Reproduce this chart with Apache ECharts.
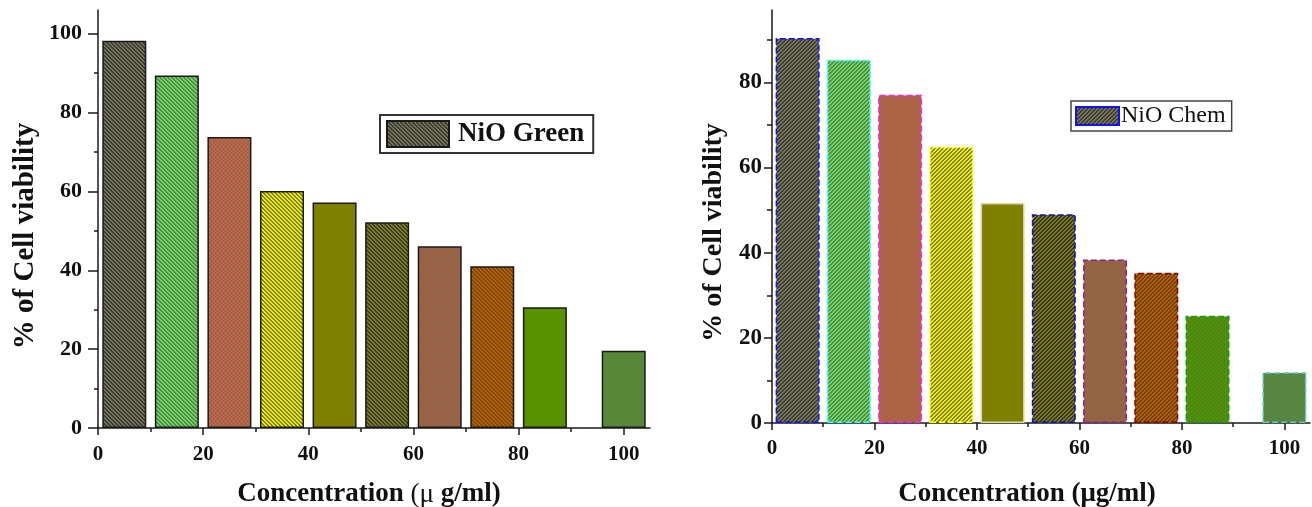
<!DOCTYPE html>
<html>
<head>
<meta charset="utf-8">
<script src="https://cdn.jsdelivr.net/npm/echarts@6/dist/echarts.min.js"></script>
<style>
html,body{margin:0;padding:0;background:#fff;}
#chart{width:1312px;height:507px;}
</style>
</head>
<body>
<div id="chart"></div>
<script>
// ---- data ----
var concentrations = [5, 15, 25, 35, 45, 55, 65, 75, 85, 100];
var nioGreen = [98.2, 89.4, 73.8, 60.1, 57.2, 52.2, 46.1, 41.0, 30.6, 19.6];
var nioChem = [90.4, 85.3, 77.1, 64.9, 51.7, 49.0, 38.4, 35.3, 25.2, 11.9];
var xTickLabels = [0, 20, 40, 60, 80, 100];
var xMinorTicks = [10, 30, 50, 70, 90];
var yTickLabelsGreen = [0, 20, 40, 60, 80, 100];
var yMinorTicksGreen = [10, 30, 50, 70, 90];
var yTickLabelsChem = [0, 20, 40, 60, 80];
var yMinorTicksChem = [10, 30, 50, 70, 90];

// ---- styles ----
var OLIVE = '#808000';
var stripeGreen = ['#30308c', '#40e0a8', '#e04890', '#f0f000', null, '#3c3c50', '#b04890', '#b42800', '#30a400', '#309070'];
var stripeChem = ['#34348a', '#40e0a8', '#d84888', '#f0f000', null, '#333344', '#a84888', '#a42000', '#20981c', '#308c80'];
var borderChem = ['#1010ff', '#30ffff', '#ff20ff', '#ffff20', '#d8d8a0', '#1010c0', '#902090', '#900000', '#10a010', '#60c8c8'];

function hatch(color, dir) {
  var c = document.createElement('canvas');
  c.width = 4; c.height = 4;
  var ctx = c.getContext('2d');
  ctx.fillStyle = OLIVE;
  ctx.fillRect(0, 0, 4, 4);
  if (!color) return OLIVE;
  ctx.fillStyle = color;
  for (var y = 0; y < 4; y++) {
    for (var x = 0; x < 4; x++) {
      var k = dir > 0 ? (x + y) % 4 : (x - y + 8) % 4;
      if (k < 2) ctx.fillRect(x, y, 1, 1);
    }
  }
  return { image: c, repeat: 'repeat' };
}

var FONT = 'Liberation Serif';
var AX = '#1a1a1a';

var greenData = concentrations.map(function (c, i) {
  return {
    value: [c, nioGreen[i]],
    itemStyle: { color: hatch(stripeGreen[i], -1), borderColor: AX, borderWidth: 1.5 }
  };
});
var chemData = concentrations.map(function (c, i) {
  return {
    value: [c, nioChem[i]],
    itemStyle: {
      color: hatch(stripeChem[i], 1), borderColor: borderChem[i], borderWidth: 1.5,
      borderType: i === 4 ? 'solid' : 'dashed'
    }
  };
});

function xAxisMain(grid, labelSize, margin, name, nameRich, nameGap, namePad) {
  return {
    type: 'value', gridIndex: grid, min: 0, max: 105, position: 'bottom',
    axisLine: { show: true, onZero: false, lineStyle: { color: AX, width: 1.5 } },
    axisTick: { show: true, length: 7, customValues: xTickLabels, lineStyle: { color: AX, width: 1.5 } },
    axisLabel: { customValues: xTickLabels, margin: margin, fontFamily: FONT, fontWeight: 'bold', fontSize: labelSize, color: '#111' },
    splitLine: { show: false },
    name: name, nameLocation: 'middle', nameGap: nameGap,
    nameTextStyle: { fontFamily: FONT, fontWeight: 'bold', fontSize: 27, color: '#111', padding: namePad, rich: nameRich }
  };
}
function xAxisMinor(grid) {
  return {
    type: 'value', gridIndex: grid, min: 0, max: 105, position: 'bottom',
    axisLine: { show: false },
    axisTick: { show: true, length: 4, customValues: xMinorTicks, lineStyle: { color: AX, width: 1.5 } },
    axisLabel: { show: false },
    splitLine: { show: false }
  };
}
function yAxisMain(grid, max, labels, tickLen, labelSize, margin, nameGap, namePad, nameSize) {
  return {
    type: 'value', gridIndex: grid, min: 0, max: max, position: 'left',
    axisLine: { show: true, lineStyle: { color: AX, width: 1.5 } },
    axisTick: { show: true, length: tickLen, customValues: labels, lineStyle: { color: AX, width: 1.5 } },
    axisLabel: { customValues: labels, margin: margin, fontFamily: FONT, fontWeight: 'bold', fontSize: labelSize, color: '#111' },
    splitLine: { show: false },
    name: '% of Cell viability', nameLocation: 'middle', nameGap: nameGap, nameRotate: 90,
    nameTextStyle: { fontFamily: FONT, fontWeight: 'bold', fontSize: nameSize, color: '#111', padding: namePad }
  };
}
function yAxisMinor(grid, max, minors, len) {
  return {
    type: 'value', gridIndex: grid, min: 0, max: max, position: 'left',
    axisLine: { show: false },
    axisTick: { show: true, length: len, customValues: minors, lineStyle: { color: AX, width: 1.5 } },
    axisLabel: { show: false },
    splitLine: { show: false }
  };
}

var option = {
  animation: false,
  backgroundColor: '#fff',
  grid: [
    { left: 98, top: 10, width: 552, height: 418, containLabel: false, outerBoundsMode: 'none' },
    { left: 772, top: 10, width: 538, height: 413, containLabel: false, outerBoundsMode: 'none' }
  ],
  legend: [
    {
      data: ['NiO Green'], left: 380, top: 115, orient: 'horizontal', icon: 'rect',
      itemWidth: 62, itemHeight: 26, padding: [5, 9, 5, 6],
      borderColor: '#333', borderWidth: 2, backgroundColor: '#fff',
      textStyle: { fontFamily: FONT, fontWeight: 'bold', fontSize: 27, color: '#111', lineHeight: 27, padding: [0, 0, 0, 4] },
      selectedMode: false
    },
    {
      data: ['NiO Chem'], left: 1071, top: 101, orient: 'horizontal', icon: 'rect',
      itemWidth: 43, itemHeight: 18, padding: [3, 6, 3, 4],
      borderColor: '#444', borderWidth: 1.5, backgroundColor: '#fff',
      textStyle: { fontFamily: FONT, fontSize: 24, color: '#111', lineHeight: 24, padding: [0, 0, 0, -3] },
      selectedMode: false
    }
  ],
  xAxis: [
    xAxisMain(0, 21, 16, 'Concentration {t|(μ} g/ml)', { t: { fontFamily: FONT, fontWeight: 'normal', fontSize: 27, color: '#111' } }, 53, [0, 10, 0, 0]),
    xAxisMinor(0),
    xAxisMain(1, 21, 15, 'Concentration (μg/ml)', null, 58, [0, 28, 0, 0]),
    xAxisMinor(1)
  ],
  yAxis: [
    yAxisMain(0, 106, yTickLabelsGreen, 10, 22, 16, 58, [0, 34, 0, 0], 29),
    yAxisMinor(0, 106, yMinorTicksGreen, 4),
    yAxisMain(1, 97, yTickLabelsChem, 8, 23, 10, 44, [0, 32, 0, 0], 28),
    yAxisMinor(1, 97, yMinorTicksChem, 5)
  ],
  series: [
    {
      name: 'NiO Green', type: 'bar', xAxisIndex: 0, yAxisIndex: 0, barWidth: 44,
      itemStyle: { color: hatch(stripeGreen[0], -1), borderColor: AX, borderWidth: 1.5 },
      emphasis: { disabled: true },
      data: greenData
    },
    {
      name: 'NiO Chem', type: 'bar', xAxisIndex: 2, yAxisIndex: 2, barWidth: 44,
      itemStyle: { color: hatch(stripeChem[0], 1), borderColor: borderChem[0], borderWidth: 1.5, borderType: 'dashed' },
      emphasis: { disabled: true },
      data: chemData
    }
  ]
};

var chart = echarts.init(document.getElementById('chart'), null, { renderer: 'canvas' });
chart.setOption(option);
</script>
</body>
</html>
